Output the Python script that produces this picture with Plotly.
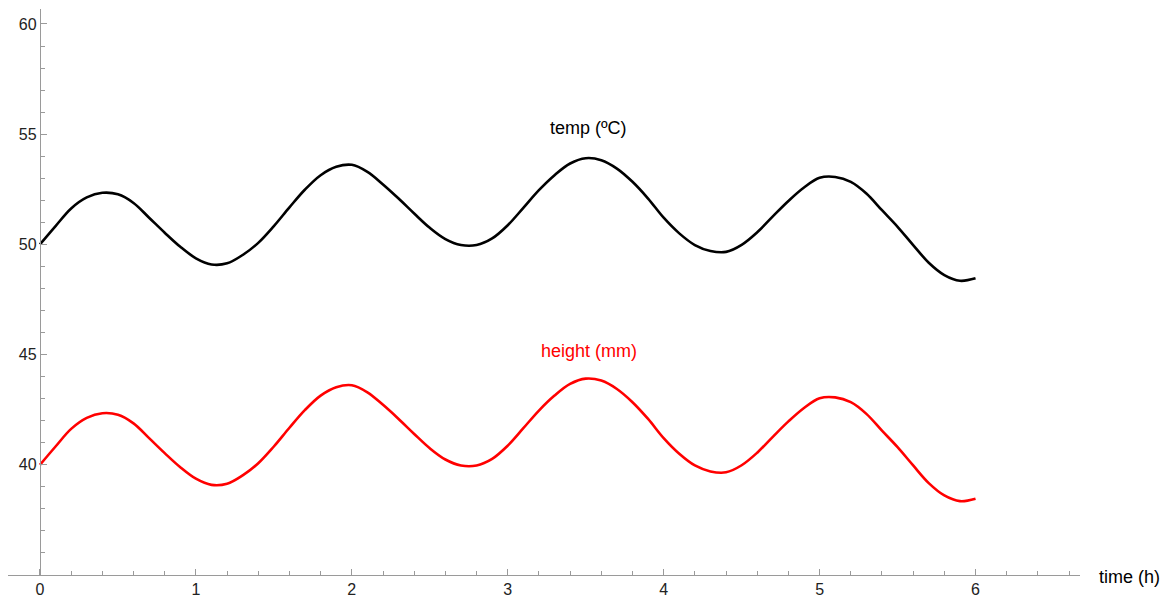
import plotly.graph_objects as go

# time (h)
time_h = [0.0, 0.1, 0.2, 0.3, 0.4, 0.5, 0.6, 0.7, 0.8, 0.9,
          1.0, 1.1, 1.2, 1.3, 1.4, 1.5, 1.6, 1.7, 1.8, 1.9,
          2.0, 2.1, 2.2, 2.3, 2.4, 2.5, 2.6, 2.7, 2.8, 2.9,
          3.0, 3.1, 3.2, 3.3, 3.4, 3.5, 3.6, 3.7, 3.8, 3.9,
          4.0, 4.1, 4.2, 4.3, 4.4, 4.5, 4.6, 4.7, 4.8, 4.9,
          5.0, 5.1, 5.2, 5.3, 5.4, 5.5, 5.6, 5.7, 5.8, 5.9, 6.0]

temp_c = [50.00, 50.83, 51.63, 52.13, 52.34, 52.27, 51.88, 51.21, 50.53, 49.89,
          49.37, 49.09, 49.14, 49.52, 50.07, 50.83, 51.68, 52.49, 53.14, 53.52,
          53.61, 53.29, 52.72, 52.08, 51.40, 50.75, 50.24, 49.97, 49.97, 50.27,
          50.87, 51.66, 52.46, 53.14, 53.67, 53.91, 53.82, 53.44, 52.84, 52.08,
          51.21, 50.50, 49.97, 49.70, 49.66, 49.98, 50.55, 51.27, 51.97, 52.58,
          53.02, 53.06, 52.84, 52.31, 51.55, 50.80, 49.97, 49.17, 48.61, 48.35, 48.46]

height_mm = [40.00, 40.83, 41.63, 42.13, 42.34, 42.27, 41.88, 41.21, 40.53, 39.89,
             39.37, 39.09, 39.14, 39.52, 40.07, 40.83, 41.68, 42.49, 43.14, 43.52,
             43.61, 43.29, 42.72, 42.08, 41.40, 40.75, 40.24, 39.97, 39.97, 40.27,
             40.87, 41.66, 42.46, 43.14, 43.67, 43.91, 43.82, 43.44, 42.84, 42.08,
             41.21, 40.50, 39.97, 39.70, 39.66, 39.98, 40.55, 41.27, 41.97, 42.58,
             43.02, 43.06, 42.84, 42.31, 41.55, 40.80, 39.97, 39.17, 38.61, 38.35, 38.46]

series_labels = ["temp (ºC)", "height (mm)"]
x_label = "time (h)"

FONT = "Liberation Sans, Arial, sans-serif"
AXIS = "#9a9a9a"

fig = go.Figure()
fig.add_trace(go.Scatter(x=time_h, y=temp_c, mode="lines",
                         line=dict(color="black", width=2.6, shape="spline", smoothing=1.0),
                         name=series_labels[0], hoverinfo="x+y"))
fig.add_trace(go.Scatter(x=time_h, y=height_mm, mode="lines",
                         line=dict(color="#ff0000", width=2.6, shape="spline", smoothing=1.0),
                         name=series_labels[1], hoverinfo="x+y"))

x_min, x_max = -0.205, 6.67
y_min, y_max = 35.0, 60.68
W, H = 1160, 600
ml, mr, mt, mb = 8, 80, 9, 25
plot_w = W - ml - mr
y_axis_pos = (0 - x_min) / (x_max - x_min)

fig.update_layout(
    width=W, height=H,
    margin=dict(l=ml, r=mr, t=mt, b=mb, autoexpand=False),
    paper_bgcolor="white", plot_bgcolor="white",
    showlegend=False,
    font=dict(family=FONT, size=16, color="#222222"),
    xaxis=dict(range=[x_min, x_max], showgrid=False, zeroline=False,
               automargin=False,
               showline=True, linecolor=AXIS, linewidth=1.2,
               ticks="inside", ticklen=6, tickcolor=AXIS, tickwidth=1,
               tick0=0, dtick=1,
               minor=dict(ticks="inside", dtick=0.2, tick0=0, ticklen=4,
                          tickcolor=AXIS, showgrid=False),
               tickfont=dict(size=16, color="#222222")),
    yaxis=dict(range=[y_min, y_max], showgrid=False, zeroline=False,
               automargin=False,
               anchor="free", position=y_axis_pos,
               showline=True, linecolor=AXIS, linewidth=1.2,
               ticks="inside", ticklen=6, tickcolor=AXIS, tickwidth=1,
               tickvals=[40, 45, 50, 55, 60],
               minor=dict(ticks="inside", dtick=1, tick0=35, ticklen=4,
                          tickcolor=AXIS, showgrid=False),
               tickfont=dict(size=16, color="#222222")),
    annotations=[
        dict(x=3.52, y=55.3, xref="x", yref="y", text=series_labels[0],
             showarrow=False, font=dict(family=FONT, size=18, color="black")),
        dict(x=3.52, y=45.15, xref="x", yref="y", text=series_labels[1],
             showarrow=False, font=dict(family=FONT, size=18, color="#ff0000")),
        dict(x=(1097 - ml) / plot_w, y=35, xref="paper", yref="y", text=x_label,
             xanchor="left", yanchor="middle", yshift=-2, showarrow=False,
             font=dict(family=FONT, size=18, color="black")),
    ],
)

fig.write_html(
    "out.html",
    config={"displayModeBar": False},
    post_script="document.body.style.margin='0';document.body.style.overflow='hidden';",
)
